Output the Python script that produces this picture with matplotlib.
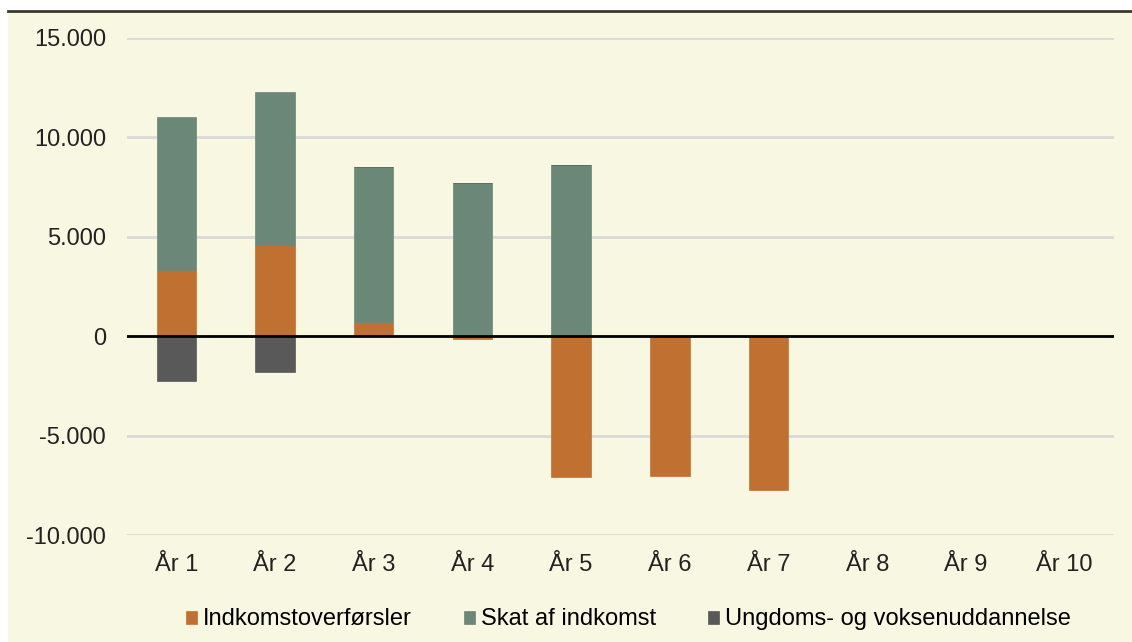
import numpy as np
import matplotlib
matplotlib.use("Agg")
import matplotlib.pyplot as plt
from matplotlib.patches import Rectangle
from matplotlib.ticker import FuncFormatter

plt.rcParams['font.family'] = ['Liberation Sans', 'DejaVu Sans']

# --- Data ---
years = ['År 1', 'År 2', 'År 3', 'År 4', 'År 5', 'År 6', 'År 7', 'År 8', 'År 9', 'År 10']
indkomstoverforsler = [3355, 4580, 720, -120, -7080, -7010, -7750, 0, 0, 0]
skat_af_indkomst = [7675, 7680, 7800, 7730, 8590, 0, 0, 0, 0, 0]
uddannelse = [-2250, -1810, 0, 0, 0, 0, 0, 0, 0, 0]

series = [
    ('Indkomstoverførsler', indkomstoverforsler, '#C07030'),
    ('Skat af indkomst', skat_af_indkomst, '#6B8777'),
    ('Ungdoms- og voksenuddannelse', uddannelse, '#595959'),
]

BG = '#F8F7E1'

fig = plt.figure(figsize=(11.32, 6.42), dpi=100)
fig.patch.set_facecolor('white')
# yellow chart frame with dark top rule
fig.add_artist(Rectangle((8 / 1132, 0), 1 - 8 / 1132, 1 - 11 / 642,
                         transform=fig.transFigure, facecolor=BG, edgecolor='none', zorder=0))
fig.add_artist(plt.Line2D([8 / 1132, 1], [1 - 11 / 642] * 2, transform=fig.transFigure,
                          color='#3a3a30', lw=2, zorder=1))

ax = fig.add_axes([127 / 1132, 1 - 535 / 642, (1114 - 127) / 1132, (535 - 38) / 642])
ax.set_facecolor('none')

x = np.arange(len(years))
pos_bottom = np.zeros(len(years))
neg_bottom = np.zeros(len(years))
for name, vals, color in series:
    v = np.array(vals, dtype=float)
    bottom = np.where(v >= 0, pos_bottom, neg_bottom)
    ax.bar(x, v, 0.4, bottom=bottom, color=color, label=name, zorder=3,
           edgecolor=color, linewidth=0.5)
    pos_bottom += np.where(v >= 0, v, 0)
    neg_bottom += np.where(v < 0, v, 0)

ax.axhline(0, color='black', lw=2, zorder=4)
ax.set_ylim(-10000, 15000)
ax.set_xlim(-0.5, len(years) - 0.5)
ax.set_yticks(np.arange(-10000, 15001, 5000))
ax.yaxis.set_major_formatter(FuncFormatter(lambda v, p: f'{int(v):,}'.replace(',', '.')))
ax.grid(axis='y', color='#D9D9D9', lw=2, zorder=0)
ax.set_xticks(x)
ax.set_xticklabels(years)
ax.tick_params(axis='both', length=0, labelsize=17, colors='#222222')
ax.tick_params(axis='y', pad=15)
ax.tick_params(axis='x', pad=14)
for s in ax.spines.values():
    s.set_visible(False)

leg = ax.legend(loc='upper center', bbox_to_anchor=(0.508, -0.105), ncol=3, frameon=False,
                fontsize=17, handlelength=0.47, handleheight=0.47, handletextpad=0.25,
                columnspacing=2.2)

fig.savefig('out.png', dpi=100, facecolor=fig.get_facecolor())
